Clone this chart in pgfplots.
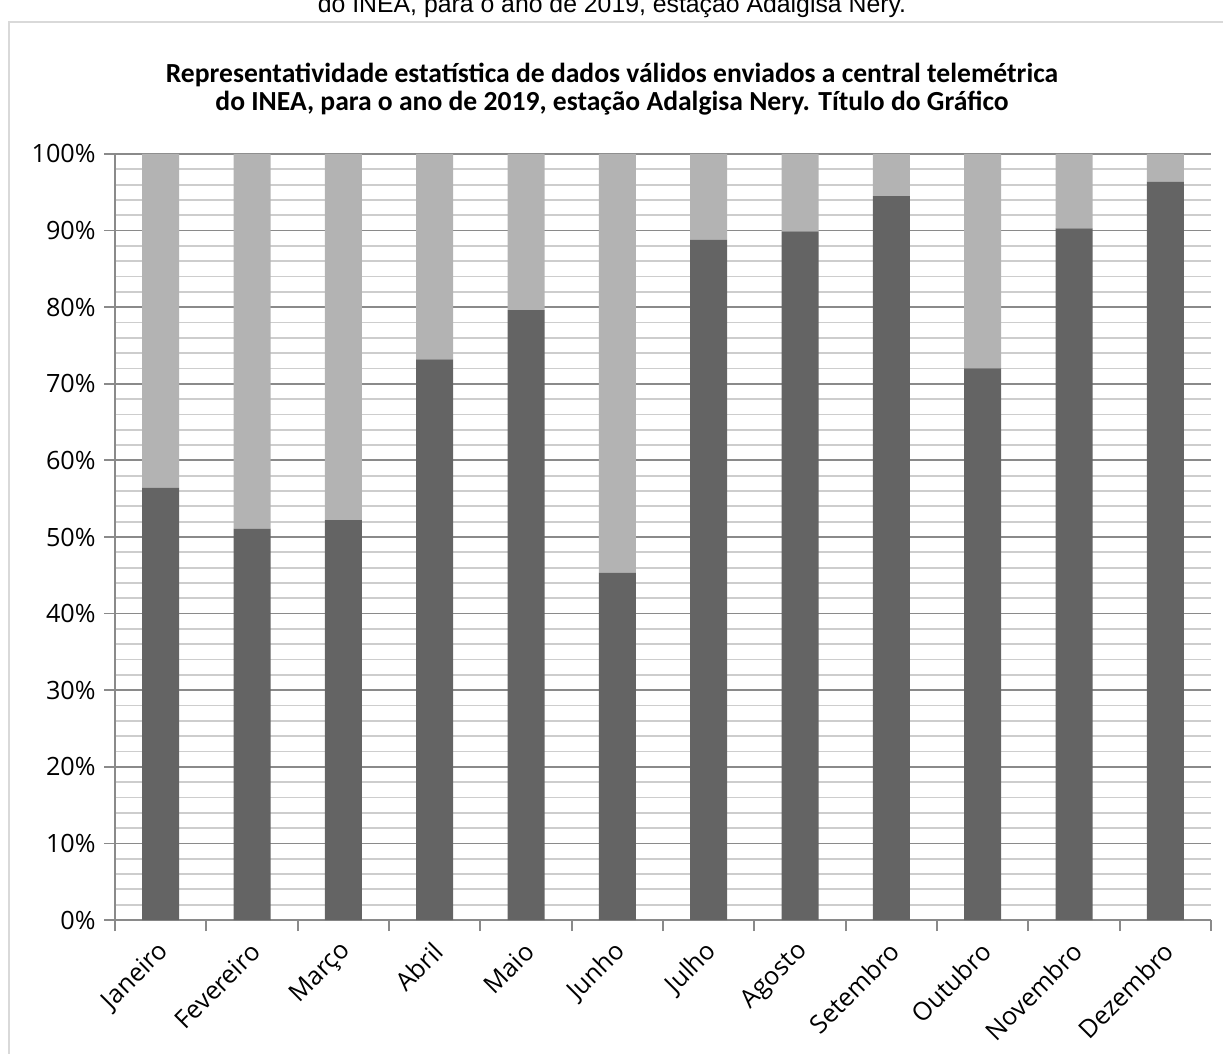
\documentclass[border=0pt]{standalone}
\usepackage{pgfplots}
\pgfplotsset{compat=1.18}
\usepackage{fontspec}
\setmainfont{Open Sans}
\newfontfamily\titlefont{Carlito}
\newfontfamily\captionfont{Liberation Sans}

\definecolor{validbar}{HTML}{646464}
\definecolor{missbar}{HTML}{B3B3B3}
\definecolor{majorgrid}{HTML}{8A8A8A}
\definecolor{minorgrid}{HTML}{CDCDCD}
\definecolor{framegray}{HTML}{D9D9D9}

\begin{document}
\begin{tikzpicture}[x=0.5bp,y=0.5bp]
  % caption line above the chart area and the chart frame
  \begin{scope}
    \clip (0,0) rectangle (1223,1053);
    \node[font=\captionfont\fontsize{12.4bp}{14bp}\selectfont, anchor=base, inner sep=0pt]
      at (612,1040) {do INEA, para o ano de 2019, estação Adalgisa Nery.};
    \draw[framegray, line width=1.2bp] (9,-40) -- (9,1031) -- (1260,1031);
  \end{scope}

  % chart title
  \node[font=\titlefont\bfseries\fontsize{13.8bp}{14.2bp}\selectfont, align=center, inner sep=0pt]
    at (612,964) {Representatividade estatística de dados válidos enviados a central telemétrica\\
                  do INEA, para o ano de 2019, estação Adalgisa Nery. Título do Gráfico};

  \begin{axis}[
    at={(57.5bp,66.5bp)}, anchor=south west,
    scale only axis, width=548bp, height=383bp,
    ybar stacked, bar width=0.405,
    xmin=-0.5, xmax=11.5, ymin=0, ymax=100,
    axis x line*=bottom, axis y line*=left,
    axis line style={majorgrid, line width=0.9bp},
    every tick/.style={majorgrid, line width=0.9bp},
    tick align=outside,
    major tick length=5.5bp,
    minor tick length=0pt,
    xtick={-0.5,0.5,...,11.5}, xticklabels={},
    extra x ticks={0,1,2,3,4,5,6,7,8,9,10,11},
    extra x tick labels={Janeiro,Fevereiro,Março,Abril,Maio,Junho,Julho,Agosto,Setembro,Outubro,Novembro,Dezembro},
    extra x tick style={major tick length=0pt, grid=none},
    xticklabel style={rotate=45, anchor=east, inner sep=0pt, xshift=-8.2bp, yshift=-11bp},
    ytick={0,10,...,100},
    yticklabels={0\%,10\%,20\%,30\%,40\%,50\%,60\%,70\%,80\%,90\%,100\%},
    minor y tick num=4,
    ymajorgrids, yminorgrids,
    major grid style={majorgrid, line width=0.9bp},
    minor grid style={minorgrid, line width=0.9bp},
    yticklabel style={inner sep=0pt, xshift=-4bp},
    ticklabel style={font=\fontsize{12.6bp}{14bp}\selectfont, text=black},
  ]
    % share of valid data per month
    \addplot[fill=validbar, draw=none] coordinates {
      (0,56.4) (1,51.1) (2,52.2) (3,73.2) (4,79.6) (5,45.3)
      (6,88.8) (7,89.9) (8,94.5) (9,72.0) (10,90.3) (11,96.4)};
    % remaining share
    \addplot[fill=missbar, draw=none] coordinates {
      (0,43.6) (1,48.9) (2,47.8) (3,26.8) (4,20.4) (5,54.7)
      (6,11.2) (7,10.1) (8,5.5) (9,28.0) (10,9.7) (11,3.6)};
  \end{axis}

  \pgfresetboundingbox
  \useasboundingbox (0,0) rectangle (1223,1053);
\end{tikzpicture}
\end{document}
